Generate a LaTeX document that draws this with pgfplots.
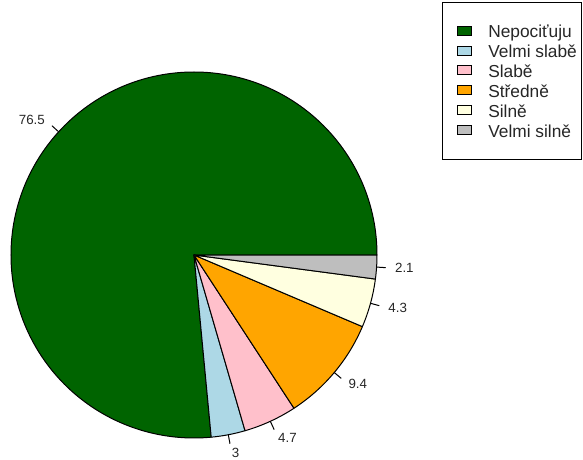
\documentclass[border=0pt]{standalone}
\usepackage{pgfplots}
\pgfplotsset{compat=1.18}
\usepackage{pgfplotstable}
\usepackage{fontspec}
\setmainfont{Liberation Sans}

\definecolor{pc0}{HTML}{006400}
\definecolor{pc1}{HTML}{ADD8E6}
\definecolor{pc2}{HTML}{FFC0CB}
\definecolor{pc3}{HTML}{FFA500}
\definecolor{pc4}{HTML}{FFFFE0}
\definecolor{pc5}{HTML}{BEBEBE}

\pgfplotstableread{
value
76.5
3
4.7
9.4
4.3
2.1
}\piedata

\begin{document}
\begin{tikzpicture}[x=0.75pt,y=-0.75pt]
\path[use as bounding box] (0,0) rectangle (583,460);
% cumulative angles from the data
\xdef\cum{0}
\foreach \i in {0,...,5}{
  \pgfplotstablegetelem{\i}{value}\of\piedata
  \xdef\tmpv{\pgfplotsretval}
  \pgfmathsetmacro\s{\cum*3.6}
  \pgfmathsetmacro\e{(\cum+\tmpv)*3.6}
  \pgfmathsetmacro\m{(\s+\e)/2}
  \expandafter\xdef\csname pieS\i\endcsname{\s}
  \expandafter\xdef\csname pieE\i\endcsname{\e}
  \expandafter\xdef\csname pieM\i\endcsname{\m}
  \expandafter\xdef\csname pieV\i\endcsname{\tmpv}
  \pgfmathparse{cos(\m)}
  \ifdim\pgfmathresult pt<0pt
    \expandafter\xdef\csname pieA\i\endcsname{east}
  \else
    \expandafter\xdef\csname pieA\i\endcsname{west}
  \fi
  \pgfmathsetmacro\c{\cum+\tmpv}
  \xdef\cum{\c}
}
\begin{axis}[
  hide axis, scale only axis,
  width=274.5pt, height=274.5pt,
  xmin=-1, xmax=1, ymin=-1, ymax=1,
  clip=false,
  at={(145.5pt,-191.25pt)}, anchor=center,
]
\pgfplotsinvokeforeach{0,...,5}{
  \filldraw[fill=pc#1, draw=black, line width=0.75pt, line join=round]
    (axis cs:0,0) -- (axis cs:{cos(\csname pieS#1\endcsname)},{sin(\csname pieS#1\endcsname)})
    arc[start angle=\csname pieS#1\endcsname, end angle=\csname pieE#1\endcsname, radius=137.25pt] -- cycle;
  \draw[line width=0.75pt]
    (axis cs:{cos(\csname pieM#1\endcsname)},{sin(\csname pieM#1\endcsname)}) --
    (axis cs:{1.05*cos(\csname pieM#1\endcsname)},{1.05*sin(\csname pieM#1\endcsname)});
  \node[anchor=\csname pieA#1\endcsname, inner sep=0pt, font=\fontsize{10}{11}\selectfont, text=black!85]
    at (axis cs:{1.1*cos(\csname pieM#1\endcsname)},{1.1*sin(\csname pieM#1\endcsname)})
    {\csname pieV#1\endcsname};
}
\end{axis}
% legend
\draw[line width=0.75pt] (442,3) rectangle (581,160);
\foreach \col/\lab [count=\k from 0] in {pc0/Nepociťuju, pc1/Velmi slabě, pc2/Slabě, pc3/Středně, pc4/Silně, pc5/Velmi silně}{
  \pgfmathsetmacro\yc{30.7+19.9*\k}
  \filldraw[fill=\col, draw=black, line width=0.75pt] (457.5,\yc-4.5) rectangle (471.5,\yc+4.5);
  \node[anchor=base west, inner sep=0pt, font=\fontsize{13}{15}\selectfont, text=black!85] at (488,\yc+7) {\lab};
}
\end{tikzpicture}
\end{document}
